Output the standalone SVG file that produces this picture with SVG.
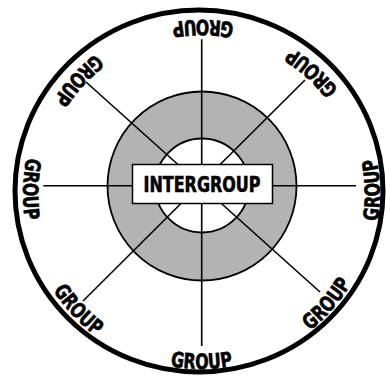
<svg xmlns="http://www.w3.org/2000/svg" width="386" height="376" viewBox="0 0 386 376">
<style>
.lbl{font-family:"Liberation Sans Narrow","DejaVu Sans Condensed","Liberation Sans",sans-serif;font-weight:bold;font-size:21px;fill:#000;stroke:#000;stroke-width:0.6}
.spoke{stroke:#000;stroke-width:1.6;fill:none}
</style>
<defs>
<path id="p1" d="M262.43,31.01 A174,174 0 0 0 143.42,29.99"/>
<path id="p2" d="M121.00,38.05 A175.5,175.5 0 0 0 39.60,126.27"/>
<path id="p3" d="M35.53,128.29 A178.5,178.5 0 0 0 32.12,250.33"/>
<path id="p4" d="M38.82,263.72 A177,177 0 0 0 121.69,351.99"/>
<path id="p5" d="M141.65,358.45 A175,175 0 0 0 261.35,358.45"/>
<path id="p6" d="M285.57,346.91 A174.5,174.5 0 0 0 364.19,257.10"/>
<path id="p7" d="M370.58,251.23 A178.5,178.5 0 0 0 367.81,129.15"/>
<path id="p8" d="M353.65,113.78 A172,172 0 0 0 266.48,34.75"/>
</defs>
<rect width="386" height="376" fill="#fff"/>
<g id="outer">
<ellipse cx="199" cy="191" rx="184" ry="181" fill="#fff" stroke="#000" stroke-width="5"/>
</g>
<g id="ring">
<circle cx="202" cy="186" r="94.5" fill="#b3b3b3" stroke="#000" stroke-width="1.8"/>
<circle cx="202" cy="185.5" r="47" fill="#fff" stroke="#000" stroke-width="1.8"/>
</g>
<g id="connectors">
<line class="spoke" x1="201.7" y1="39.3" x2="201.7" y2="346"/>
<line class="spoke" x1="43.3" y1="185.7" x2="356" y2="185.7"/>
<line class="spoke" x1="86" y1="82" x2="320" y2="292"/>
<line class="spoke" x1="305" y1="80" x2="83" y2="301"/>
</g>
<g id="intergroup">
<rect x="132.5" y="164.5" width="140" height="39" fill="#fff" stroke="#000" stroke-width="1.5"/>
<text class="lbl" x="202" y="191.7" text-anchor="middle" font-size="22" textLength="117" lengthAdjust="spacingAndGlyphs">INTERGROUP</text>
</g>
<g id="group-top"><text class="lbl"><textPath href="#p1" startOffset="50%" text-anchor="middle" textLength="63" lengthAdjust="spacingAndGlyphs">GROUP</textPath></text></g>
<g id="group-upper-left"><text class="lbl"><textPath href="#p2" startOffset="50%" text-anchor="middle" textLength="63" lengthAdjust="spacingAndGlyphs">GROUP</textPath></text></g>
<g id="group-left"><text class="lbl"><textPath href="#p3" startOffset="50%" text-anchor="middle" textLength="63" lengthAdjust="spacingAndGlyphs">GROUP</textPath></text></g>
<g id="group-lower-left"><text class="lbl"><textPath href="#p4" startOffset="50%" text-anchor="middle" textLength="63" lengthAdjust="spacingAndGlyphs">GROUP</textPath></text></g>
<g id="group-bottom"><text class="lbl"><textPath href="#p5" startOffset="50%" text-anchor="middle" textLength="63" lengthAdjust="spacingAndGlyphs">GROUP</textPath></text></g>
<g id="group-lower-right"><text class="lbl"><textPath href="#p6" startOffset="50%" text-anchor="middle" textLength="63" lengthAdjust="spacingAndGlyphs">GROUP</textPath></text></g>
<g id="group-right"><text class="lbl"><textPath href="#p7" startOffset="50%" text-anchor="middle" textLength="63" lengthAdjust="spacingAndGlyphs">GROUP</textPath></text></g>
<g id="group-upper-right"><text class="lbl"><textPath href="#p8" startOffset="50%" text-anchor="middle" textLength="63" lengthAdjust="spacingAndGlyphs">GROUP</textPath></text></g>
</svg>
